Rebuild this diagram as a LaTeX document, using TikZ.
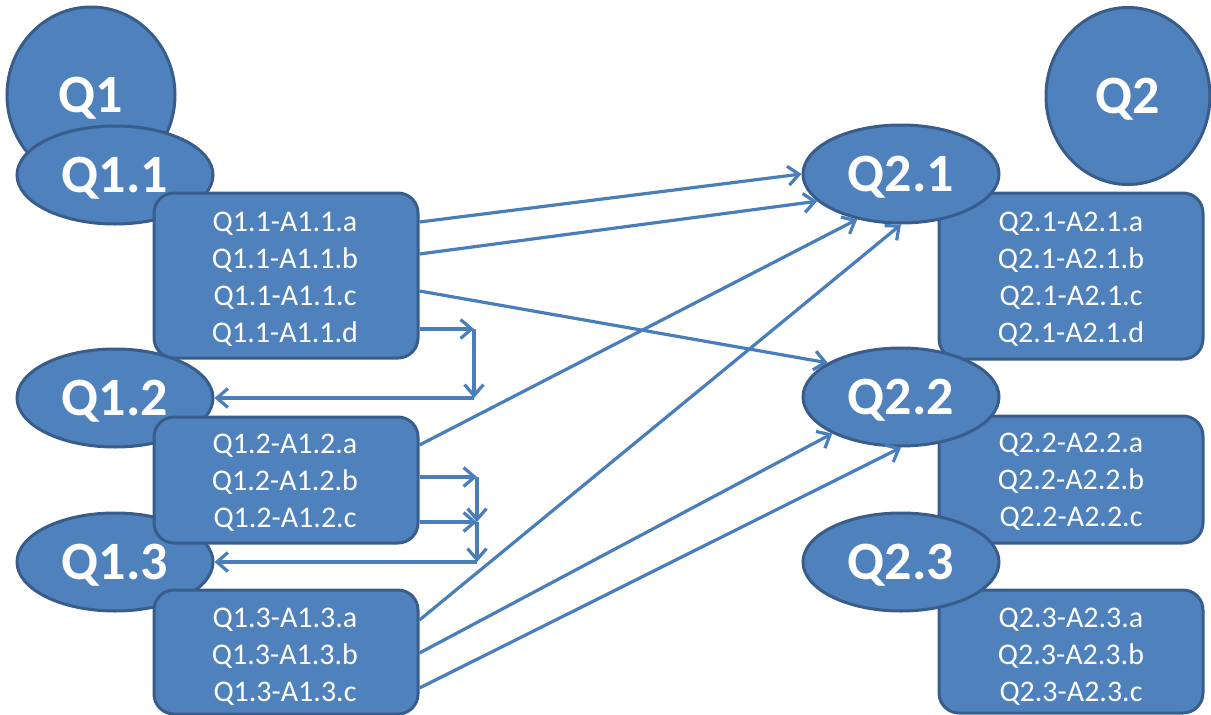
\documentclass[tikz,border=0pt]{standalone}
\usepackage{fontspec}
\setmainfont{Carlito}
\usetikzlibrary{shapes.geometric,arrows.meta}
\definecolor{qfill}{HTML}{4F81BD}
\definecolor{qline}{HTML}{385D8A}
\definecolor{arr}{HTML}{4A7EBB}
\begin{document}
\begin{tikzpicture}[x=1pt,y=-1pt,
 qell/.style={ellipse, draw=qline, fill=qfill, line width=3pt, minimum width=196pt, minimum height=98pt, inner sep=0pt, text=white, font=\fontsize{54}{60}\selectfont\bfseries, text depth=0pt},
 qcirc/.style={qell, minimum width=166pt, minimum height=176pt},
 abox/.style={rectangle, rounded corners=20pt, draw=qline, fill=qfill, line width=3pt, inner sep=0pt, minimum width=264pt},
 atext/.style={text=white, align=center, font=\fontsize{30}{37}\selectfont, inner sep=0pt},
 link/.style={draw=arr, line width=3.2pt, -{Straight Barb[length=11pt,width=19pt]}}
]
\useasboundingbox (0,0) rectangle (1211,715);
% left column
\node[qcirc, minimum width=168pt] (q1) at (91,95) {Q1};
\node[qell] (q11) at (115,175) {Q1.1};
\node[qell] (q12) at (115,398) {Q1.2};
\node[qell] (q13) at (115,562) {Q1.3};
\node[abox, minimum height=165pt] (b11) at (286,275.5) {};
\node[abox, minimum height=126pt] (b12) at (286,480) {};
\node[abox, minimum height=124pt] (b13) at (286,652) {};
\node[atext] (t11) at (285,279) {Q1.1-A1.1.a\\Q1.1-A1.1.b\\Q1.1-A1.1.c\\Q1.1-A1.1.d};
\node[atext] (t12) at (285,483) {Q1.2-A1.2.a\\Q1.2-A1.2.b\\Q1.2-A1.2.c};
\node[atext] (t13) at (285,657) {Q1.3-A1.3.a\\Q1.3-A1.3.b\\Q1.3-A1.3.c};
% right column
\node[abox, minimum height=166pt] (b21) at (1071,276) {};
\node[abox, minimum height=127pt] (b22) at (1071,479.5) {};
\node[abox, minimum height=123pt] (b23) at (1071,651.5) {};
\node[atext] (t21) at (1071,279) {Q2.1-A2.1.a\\Q2.1-A2.1.b\\Q2.1-A2.1.c\\Q2.1-A2.1.d};
\node[atext] (t22) at (1071,482) {Q2.2-A2.2.a\\Q2.2-A2.2.b\\Q2.2-A2.2.c};
\node[atext] (t23) at (1071,657) {Q2.3-A2.3.a\\Q2.3-A2.3.b\\Q2.3-A2.3.c};
\node[qcirc, minimum width=164pt, minimum height=177pt] (q2) at (1128,96) {Q2};
\node[qell] (q21) at (901,174) {Q2.1};
\node[qell] (q22) at (901,397) {Q2.2};
\node[qell] (q23) at (901,562) {Q2.3};
% elbow points
\coordinate (k1) at (474,329);
\coordinate (k2) at (474,398);
\coordinate (k3) at (477,477);
\coordinate (k4) at (477,522);
\coordinate (k5) at (477,562);
% connectors
\draw[link] (b11.east |- 0,222) -- (q21.180);
\draw[link] (b11.east |- 0,254) -- (q21.198);
\draw[link] (b11.east |- 0,291) -- (q22.155);
\draw[link] (b11.east |- 0,329) -- (k1);
\draw[link] (k1) -- (k2);
\draw[link] (k2) -- (q12.east);
\draw[link] (b12.east |- 0,445) -- (q21.226);
\draw[link] (b12.east |- 0,477) -- (k3);
\draw[link] (k3) -- (k4);
\draw[link] (b12.east |- 0,522) -- (k4);
\draw[link] (k4) -- (k5);
\draw[link] (k5) -- (q13.east);
\draw[link] (b13.east |- 0,620) -- (q21.south);
\draw[link] (b13.east |- 0,653) -- (q22.208);
\draw[link] (b13.east |- 0,688) -- (q22.south);
\end{tikzpicture}
\end{document}
